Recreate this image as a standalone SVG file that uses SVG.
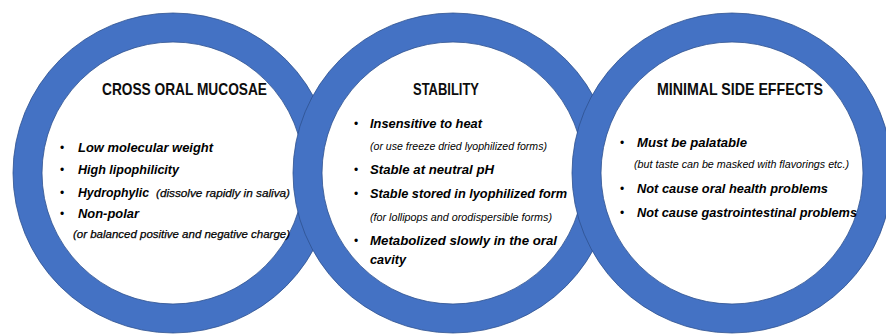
<svg xmlns="http://www.w3.org/2000/svg" width="886" height="335" viewBox="0 0 886 335">
  <defs>
    <style>
      .ring { fill: #ffffff; stroke: #4472C4; stroke-width: 29; }
      .edge { fill: none; stroke: #2F528F; stroke-width: 0.8; }
      .title { font-family: "Liberation Sans", Arial, sans-serif; font-weight: bold; font-size: 16.5px; fill: #0d0d0d; text-anchor: middle; }
      .item { font-family: "Liberation Sans", Arial, sans-serif; font-weight: bold; font-style: italic; font-size: 13px; fill: #000000; }
      .note { font-family: "Liberation Sans", Arial, sans-serif; font-style: italic; font-size: 10px; fill: #000000; }
      .note-lg { font-family: "Liberation Sans", Arial, sans-serif; font-style: italic; font-size: 11.5px; fill: #000000; stroke: #000000; stroke-width: 0.25; }
      .dot { font-family: "Liberation Sans", Arial, sans-serif; font-size: 12px; fill: #000000; }
    </style>
  </defs>
  <rect width="886" height="335" fill="#ffffff"/>

  <!-- left ring: crossing the oral mucosae -->
  <g id="cross-oral-mucosae">
    <circle class="ring" cx="173" cy="173" r="145.5"/>
    <circle class="edge" cx="173" cy="173" r="160"/>
    <circle class="edge" cx="173" cy="173" r="131"/>
    <text class="title" x="184.5" y="95" textLength="165" lengthAdjust="spacingAndGlyphs">CROSS ORAL MUCOSAE</text>
    <text class="dot" x="60" y="152">•</text>
    <text class="item" x="78" y="152" textLength="135" lengthAdjust="spacingAndGlyphs">Low molecular  weight</text>
    <text class="dot" x="60" y="174">•</text>
    <text class="item" x="78" y="174" textLength="101" lengthAdjust="spacingAndGlyphs">High lipophilicity</text>
    <text class="dot" x="60" y="197">•</text>
    <text class="item" x="78" y="197" textLength="71" lengthAdjust="spacingAndGlyphs">Hydrophylic</text>
    <text class="note-lg" x="156" y="197" textLength="134" lengthAdjust="spacingAndGlyphs">(dissolve rapidly in saliva)</text>
    <text class="dot" x="60" y="218">•</text>
    <text class="item" x="78" y="218" textLength="61" lengthAdjust="spacingAndGlyphs">Non-polar</text>
    <text class="note-lg" x="73" y="238" textLength="217" lengthAdjust="spacingAndGlyphs">(or balanced positive and negative charge)</text>
  </g>

  <!-- middle ring: stability -->
  <g id="stability">
    <circle class="ring" cx="453" cy="173" r="145.5"/>
    <circle class="edge" cx="453" cy="173" r="160"/>
    <circle class="edge" cx="453" cy="173" r="131"/>
    <text class="title" x="446" y="95" textLength="66" lengthAdjust="spacingAndGlyphs">STABILITY</text>
    <text class="dot" x="354" y="128">•</text>
    <text class="item" x="370" y="128" textLength="112" lengthAdjust="spacingAndGlyphs">Insensitive to heat</text>
    <text class="note" x="370" y="150" textLength="177" lengthAdjust="spacingAndGlyphs">(or use freeze dried lyophilized forms)</text>
    <text class="dot" x="354" y="174">•</text>
    <text class="item" x="370" y="174" textLength="124" lengthAdjust="spacingAndGlyphs">Stable at neutral pH</text>
    <text class="dot" x="354" y="198">•</text>
    <text class="item" x="370" y="198" textLength="197" lengthAdjust="spacingAndGlyphs">Stable stored in lyophilized form</text>
    <text class="note" x="370" y="221" textLength="182" lengthAdjust="spacingAndGlyphs">(for lollipops and orodispersible forms)</text>
    <text class="dot" x="354" y="245">•</text>
    <text class="item" x="370" y="245" textLength="187" lengthAdjust="spacingAndGlyphs">Metabolized slowly in the oral</text>
    <text class="item" x="370" y="264" textLength="36" lengthAdjust="spacingAndGlyphs">cavity</text>
  </g>

  <!-- right ring: minimal side effects -->
  <g id="minimal-side-effects">
    <circle class="ring" cx="732" cy="173" r="145.5"/>
    <circle class="edge" cx="732" cy="173" r="160"/>
    <circle class="edge" cx="732" cy="173" r="131"/>
    <text class="title" x="740" y="95" textLength="166" lengthAdjust="spacingAndGlyphs">MINIMAL SIDE EFFECTS</text>
    <text class="dot" x="620" y="147">•</text>
    <text class="item" x="637" y="147" textLength="110" lengthAdjust="spacingAndGlyphs">Must be palatable</text>
    <text class="note" x="634" y="168" textLength="215" lengthAdjust="spacingAndGlyphs">(but taste can be masked  with flavorings etc.)</text>
    <text class="dot" x="620" y="193">•</text>
    <text class="item" x="637" y="193" textLength="191" lengthAdjust="spacingAndGlyphs">Not cause oral health problems</text>
    <text class="dot" x="620" y="217">•</text>
    <text class="item" x="637" y="217" textLength="220" lengthAdjust="spacingAndGlyphs">Not cause gastrointestinal problems</text>
  </g>
</svg>
